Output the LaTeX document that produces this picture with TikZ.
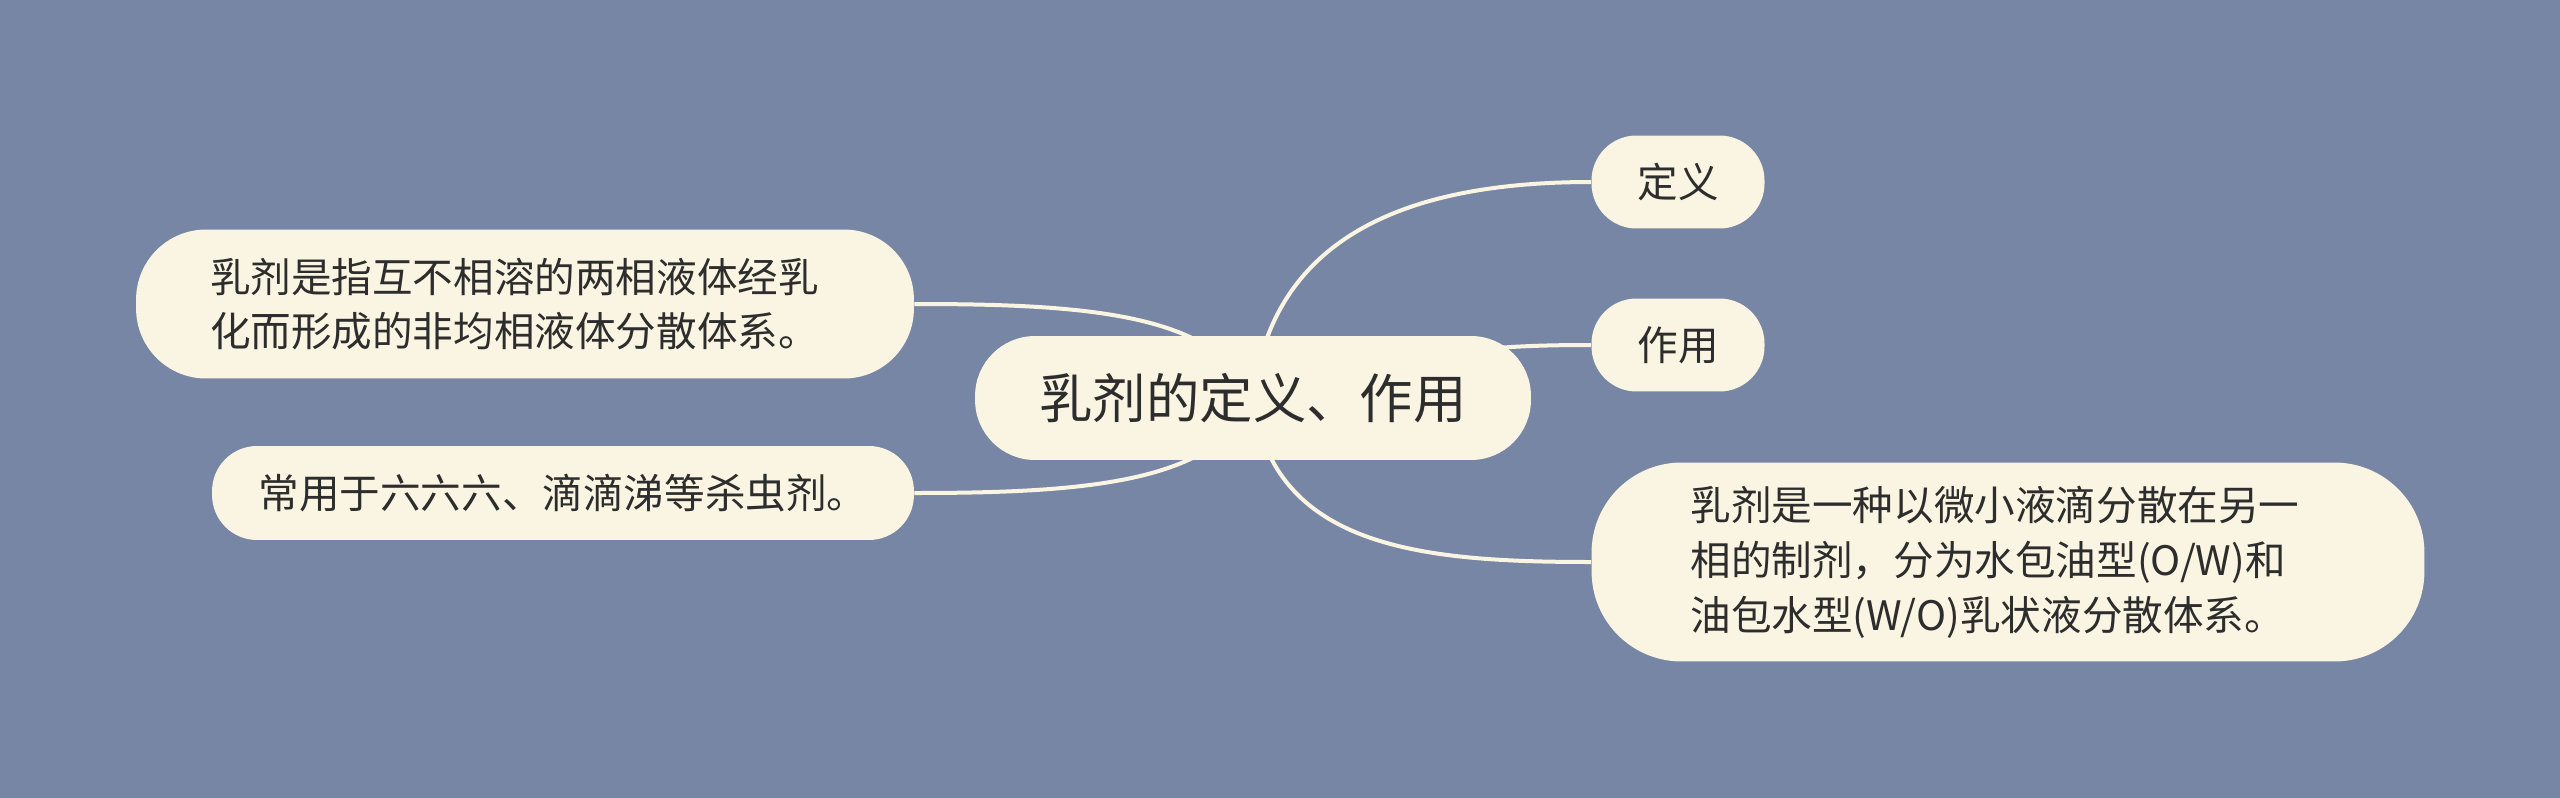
\documentclass[tikz,border=0pt]{standalone}
\usepackage{fontspec}
\newfontfamily\cjk{Noto Sans CJK SC}
\usetikzlibrary{backgrounds}
\definecolor{bgblue}{RGB}{120,134,165}
\definecolor{nodecream}{RGB}{250,245,226}
\definecolor{textdark}{RGB}{45,45,45}

\begin{document}
\begin{tikzpicture}[x=0.02cm, y=-0.02cm,
    topic/.style={fill=nodecream, text=textdark, inner sep=0pt, align=left,
      font=\cjk\fontsize{23.1}{30.5}\selectfont},
    link/.style={draw=nodecream, line width=0.08cm}]
    % Canvas
    \useasboundingbox (0,0) rectangle (2560,798);
    % Nodes
    \node[topic, minimum width=11.12cm, minimum height=2.48cm, rounded corners=1.2cm,
      font=\cjk\fontsize{30.4}{36}\selectfont] (main) at (1253,398) {乳剂的定义、作用};
    \node[topic, minimum width=3.46cm, minimum height=1.86cm, rounded corners=0.9cm] (ding) at (1678,182) {定义};
    \node[topic, minimum width=3.46cm, minimum height=1.86cm, rounded corners=0.9cm] (zuo) at (1678,345) {作用};
    \node[topic, minimum width=16.66cm, minimum height=3.98cm, rounded corners=1.8cm,
      text width=12.7cm, font=\cjk\fontsize{23.1}{31.3}\selectfont] (jie) at (2008,562)
      {乳剂是一种以微小液滴分散在另一\\相的制剂，分为水包油型(O/W)和\\油包水型(W/O)乳状液分散体系。};
    \node[topic, minimum width=15.56cm, minimum height=2.98cm, rounded corners=1.4cm,
      text width=12.6cm] (def) at (525,304)
      {乳剂是指互不相溶的两相液体经乳\\化而形成的非均相液体分散体系。};
    \node[topic, minimum width=14.04cm, minimum height=1.88cm, rounded corners=0.9cm] (use) at (563,493)
      {常用于六六六、滴滴涕等杀虫剂。};
    % Connectors
    \begin{scope}[on background layer]
      \fill[bgblue] (0,0) rectangle (2560,798);
      \draw[link] (main.center) .. controls +(20,-170) and +(-170,0) .. (ding.west);
      \draw[link] (main.center) .. controls +(150,-50) and +(-80,0) .. (zuo.west);
      \draw[link] (main.center) .. controls +(20,150) and +(-170,0) .. (jie.west);
      \draw[link] (main.center) .. controls +(-35,-85) and +(170,0) .. (def.east);
      \draw[link] (main.center) .. controls +(-35,85) and +(170,0) .. (use.east);
    \end{scope}
\end{tikzpicture}
\end{document}
